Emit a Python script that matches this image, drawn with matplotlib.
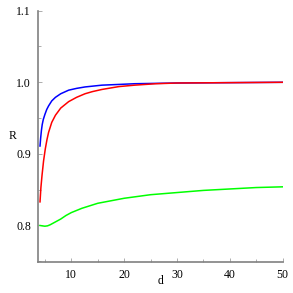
import matplotlib
matplotlib.use("Agg")
import matplotlib.pyplot as plt
from matplotlib.ticker import MultipleLocator

# values
d_blue = [4.08, 4.2, 4.35, 4.5, 4.7, 5.0, 5.35, 5.7, 6.3, 7.0, 8.0, 9.5, 11.0, 12.6, 15.8, 19.0, 22.0, 26.0, 30.0, 40.0, 50.0]
r_blue = [0.911, 0.922, 0.933, 0.941, 0.948, 0.955, 0.962, 0.967, 0.974, 0.979, 0.984, 0.989, 0.9915, 0.9935, 0.996, 0.997, 0.998, 0.9985, 0.999, 0.9995, 1.0]

d_red = [4.08, 4.25, 4.46, 4.75, 5.08, 5.4, 5.7, 6.3, 7.0, 8.0, 9.5, 11.0, 12.6, 14.0, 15.8, 19.0, 22.0, 26.0, 30.0, 40.0, 50.0]
r_red = [0.833, 0.853, 0.870, 0.890, 0.907, 0.920, 0.930, 0.944, 0.954, 0.964, 0.973, 0.979, 0.984, 0.987, 0.990, 0.994, 0.996, 0.998, 0.999, 0.9995, 1.0]

d_green = [4.08, 4.5, 5.0, 5.5, 6.0, 7.0, 8.0, 9.0, 10.0, 12.0, 15.0, 20.0, 25.0, 30.0, 35.0, 40.0, 45.0, 50.0]
r_green = [0.800, 0.7995, 0.799, 0.7995, 0.801, 0.805, 0.809, 0.814, 0.818, 0.824, 0.831, 0.838, 0.843, 0.846, 0.849, 0.851, 0.853, 0.854]

x_ticks = [10, 20, 30, 40, 50]
y_ticks = [0.8, 0.9, 1.0, 1.1]
y_labels = ["0.8", "0.9", "1.0", "1.1"]

plt.rcParams['font.family'] = ['Liberation Serif', 'DejaVu Serif']

fig = plt.figure(figsize=(2.93, 2.93), dpi=100)
ax = fig.add_axes([0.1297, 0.1058, 0.8353, 0.8577])

ax.plot(d_blue, r_blue, color="#0000ff", lw=1.1)
ax.plot(d_red, r_red, color="#ff0000", lw=1.1)
ax.plot(d_green, r_green, color="#00ff00", lw=1.1)

ax.set_xlim(3.7, 50)
ax.set_ylim(0.749, 1.1)
ax.set_xticks(x_ticks)
ax.set_yticks(y_ticks)
ax.set_yticklabels(y_labels)
ax.xaxis.set_minor_locator(MultipleLocator(5))
ax.yaxis.set_minor_locator(MultipleLocator(0.05))

for s in ["top", "right"]:
    ax.spines[s].set_visible(False)
for s in ["left", "bottom"]:
    ax.spines[s].set_color("#808080")
    ax.spines[s].set_linewidth(1.2)

ax.tick_params(which="both", direction="in", color="#a0a0a0", labelsize=8.5, width=0.6)
ax.tick_params(which="major", length=3, pad=5)
ax.tick_params(which="minor", length=2)

ax.set_xlabel("d", fontsize=8.5)
ax.set_ylabel("R", fontsize=8.5, rotation=0)
ax.xaxis.set_label_coords(0.5, -0.075)
ax.yaxis.set_label_coords(-0.102, 0.5)
ax.xaxis.label.set_verticalalignment("center")
ax.yaxis.label.set_verticalalignment("center")

fig.savefig("out.png", dpi=100)
